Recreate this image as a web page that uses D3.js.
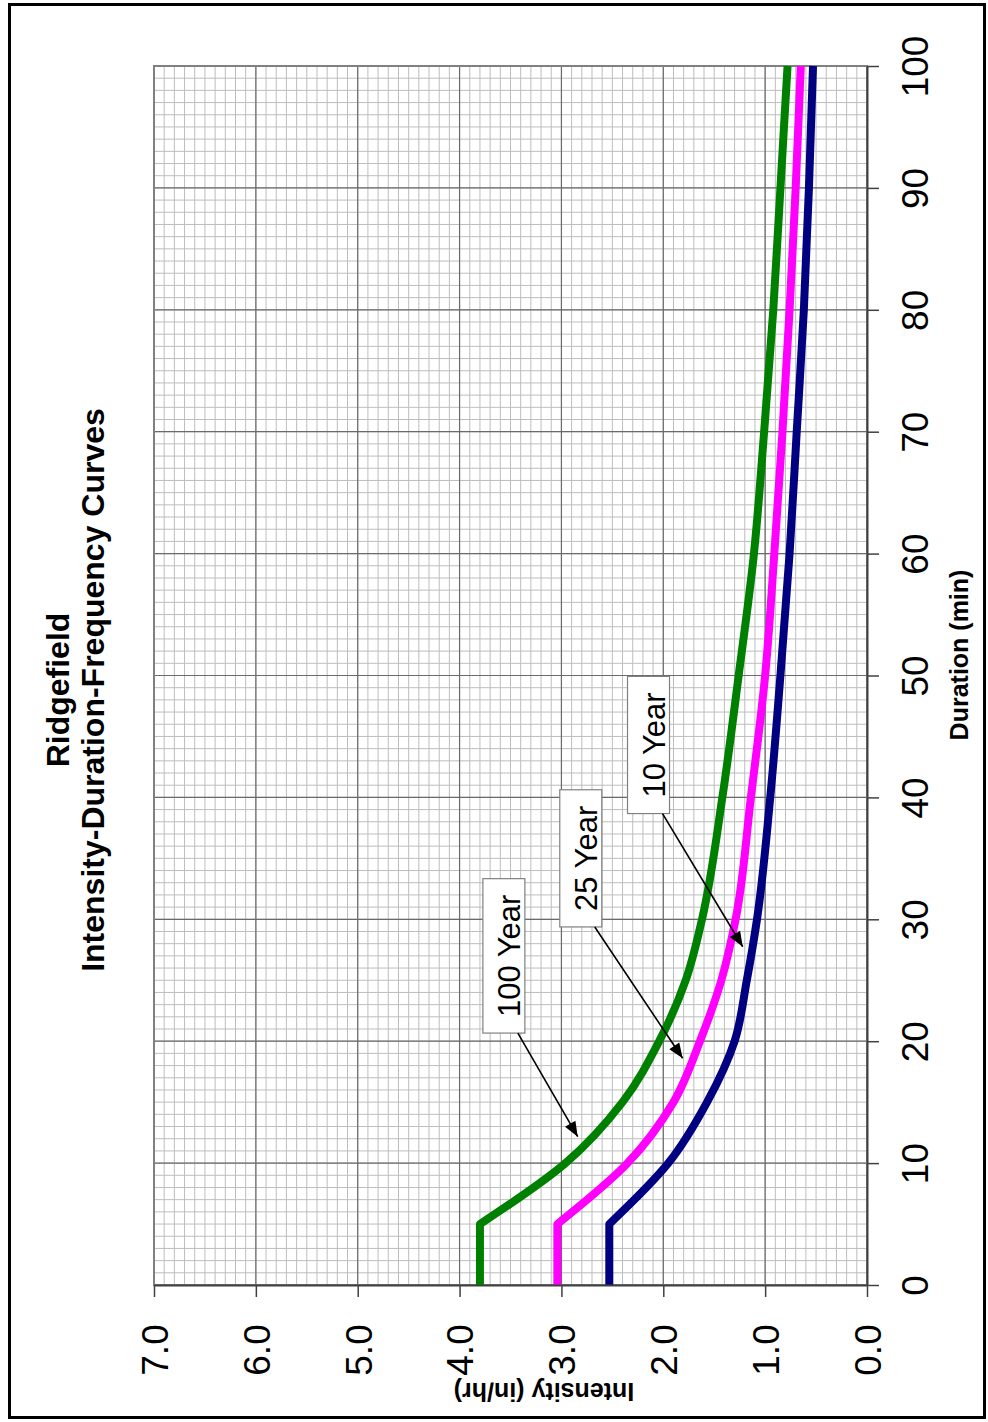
<!DOCTYPE html>
<html><head><meta charset="utf-8">
<script src="https://cdn.jsdelivr.net/npm/d3@7"></script>
<style>html,body{margin:0;padding:0;background:#fff;} svg{display:block}</style>
</head><body>
<svg id="chart" width="988" height="1422"></svg>
<script>
// ---------- data ----------
const titleLines = ["Ridgefield", "Intensity-Duration-Frequency Curves"];
const durationTitle = "Duration (min)";
const intensityTitle = "Intensity (in/hr)";
const durationTicks = [0, 10, 20, 30, 40, 50, 60, 70, 80, 90, 100];
const intensityTicks = [0, 1, 2, 3, 4, 5, 6, 7];
const durations = [0, 5, 10, 15, 20, 25, 30, 40, 50, 60, 70, 80, 90, 100];
const yr10  = [2.53, 2.53, 1.95, 1.57, 1.30, 1.18, 1.08, 0.95, 0.85, 0.76, 0.69, 0.62, 0.57, 0.53];
const yr25  = [3.04, 3.04, 2.35, 1.90, 1.64, 1.43, 1.29, 1.14, 1.00, 0.91, 0.83, 0.76, 0.70, 0.65];
const yr100 = [3.80, 3.80, 2.96, 2.40, 2.04, 1.78, 1.62, 1.42, 1.26, 1.11, 1.01, 0.92, 0.85, 0.78];
const seriesNames = ["10 Year", "25 Year", "100 Year"];
const seriesValues = [yr10, yr25, yr100];
const seriesColors = ["#000080", "#FF00FF", "#008000"];
// annotation anchors (data units: duration, intensity)
const labelDur = [44.3, 35.0, 27.0];
const labelInt = [2.145, 2.81, 3.565];
const arrowDur = [27.75, 18.6, 12.17];
const arrowInt = [1.22, 1.81, 2.84];

// ---------- chart ----------
const FONT = "'Liberation Sans', Arial, Helvetica, sans-serif";
const svg = d3.select("#chart");
const x = d3.scaleLinear().domain([0, 7]).range([867, 154]);   // intensity -> screen x
const y = d3.scaleLinear().domain([0, 100]).range([1285, 66]);  // duration -> screen y

// outer frame
svg.append("rect").attr("x", 9.5).attr("y", 4.5).attr("width", 975).attr("height", 1413)
  .attr("fill", "#fff").attr("stroke", "#000").attr("stroke-width", 3);

// grid
const grid = svg.append("g");
const minorI = d3.range(0, 71).map(i => i / 10);
const minorD = d3.range(0, 101);
grid.selectAll(".mv").data(minorI).join("line")
  .attr("x1", d => x(d)).attr("x2", d => x(d)).attr("y1", y(0)).attr("y2", y(100))
  .attr("stroke", "#bdbdbd").attr("stroke-width", 1);
grid.selectAll(".mh").data(minorD).join("line")
  .attr("y1", d => y(d)).attr("y2", d => y(d)).attr("x1", x(7)).attr("x2", x(0))
  .attr("stroke", "#bdbdbd").attr("stroke-width", 1);
grid.selectAll(".Mv").data(intensityTicks).join("line")
  .attr("x1", d => x(d)).attr("x2", d => x(d)).attr("y1", y(0)).attr("y2", y(100))
  .attr("stroke", "#6a6a6a").attr("stroke-width", 1.2);
grid.selectAll(".Mh").data(durationTicks).join("line")
  .attr("y1", d => y(d)).attr("y2", d => y(d)).attr("x1", x(7)).attr("x2", x(0))
  .attr("stroke", "#6a6a6a").attr("stroke-width", 1.2);
svg.append("rect").attr("x", x(7)).attr("y", y(100)).attr("width", x(0) - x(7)).attr("height", y(0) - y(100))
  .attr("fill", "none").attr("stroke", "#808080").attr("stroke-width", 2);

// curves
const lineGen = d3.line().x(d => d[0]).y(d => d[1]).curve(d3.curveMonotoneY);
seriesValues.forEach((vals, si) => {
  const pts = durations.map((d, i) => [x(vals[i]), y(d)]);
  const smooth = pts.slice(1).reverse();      // from 100 min down to 5 min (screen y increasing)
  const path = lineGen(smooth) + "L" + pts[0][0] + "," + pts[0][1];
  svg.append("path").attr("d", path).attr("fill", "none")
    .attr("stroke", seriesColors[si]).attr("stroke-width", 8).attr("stroke-linejoin", "round");
});

// axes
const gx = svg.append("g").attr("transform", `translate(0,${y(0)})`)
  .call(d3.axisBottom(x).tickValues(intensityTicks).tickSize(12).tickSizeOuter(0).tickFormat(d3.format(".1f")));
gx.select(".domain").attr("stroke", "#404040").attr("stroke-width", 2);
gx.selectAll(".tick line").attr("stroke", "#404040").attr("stroke-width", 1.5);
gx.selectAll(".tick text").attr("x", 0).attr("y", 0).attr("dy", "0.36em")
  .attr("text-anchor", "middle").attr("transform", "translate(0,65) rotate(-90)")
  .attr("font-family", FONT).attr("font-size", 37).attr("fill", "#000");

const gy = svg.append("g").attr("transform", `translate(${x(0)},0)`)
  .call(d3.axisRight(y).tickValues(durationTicks).tickSize(12).tickSizeOuter(0).tickFormat(d3.format("d")));
gy.select(".domain").attr("stroke", "#404040").attr("stroke-width", 2);
gy.selectAll(".tick line").attr("stroke", "#404040").attr("stroke-width", 1.5);
gy.selectAll(".tick text").attr("x", 0).attr("y", 0).attr("dy", 0)
  .attr("text-anchor", "middle").attr("transform", "translate(61,0) rotate(-90)")
  .attr("font-family", FONT).attr("font-size", 37).attr("fill", "#000");

// titles
svg.append("text").attr("transform", "translate(69,690) rotate(-90)").attr("text-anchor", "middle")
  .attr("font-family", FONT).attr("font-weight", "bold").attr("font-size", 32).text(titleLines[0]);
svg.append("text").attr("transform", "translate(104,690) rotate(-90)").attr("text-anchor", "middle")
  .attr("font-family", FONT).attr("font-weight", "bold").attr("font-size", 32).text(titleLines[1]);
svg.append("text").attr("transform", "translate(968,655) rotate(-90)").attr("text-anchor", "middle")
  .attr("font-family", FONT).attr("font-weight", "bold").attr("font-size", 25).text(durationTitle);
svg.append("text").attr("transform", "translate(544,1383) rotate(180)").attr("text-anchor", "middle")
  .attr("font-family", FONT).attr("font-weight", "bold").attr("font-size", 25).text(intensityTitle);

// arrow marker
svg.append("defs").append("marker").attr("id", "arrow")
  .attr("viewBox", "-16 -7 17 14").attr("markerWidth", 17).attr("markerHeight", 14)
  .attr("markerUnits", "userSpaceOnUse").attr("refX", 0).attr("refY", 0).attr("orient", "auto")
  .append("path").attr("d", "M0,0 L-15,-6 L-15,6 Z").attr("fill", "#000");

// labels + arrows
seriesNames.forEach((name, i) => {
  const cx = x(labelInt[i]), cy = y(labelDur[i]);
  const g = svg.append("g");
  const rect = g.append("rect");
  const t = g.append("text").attr("transform", `translate(${cx + 16},${cy}) rotate(-90)`)
    .attr("text-anchor", "middle").attr("font-family", FONT).attr("font-size", 31).attr("fill", "#000").text(name);
  const len = t.node().getComputedTextLength();
  const w = 42, h = len + 32;
  rect.attr("x", cx - w / 2).attr("y", cy - h / 2).attr("width", w).attr("height", h)
    .attr("fill", "#fff").attr("stroke", "#808080").attr("stroke-width", 1.2);
  svg.append("line").attr("x1", cx + w / 2 - 7).attr("y1", cy + h / 2)
    .attr("x2", x(arrowInt[i])).attr("y2", y(arrowDur[i]))
    .attr("stroke", "#000").attr("stroke-width", 1.6).attr("marker-end", "url(#arrow)");
});
</script>
</body></html>
